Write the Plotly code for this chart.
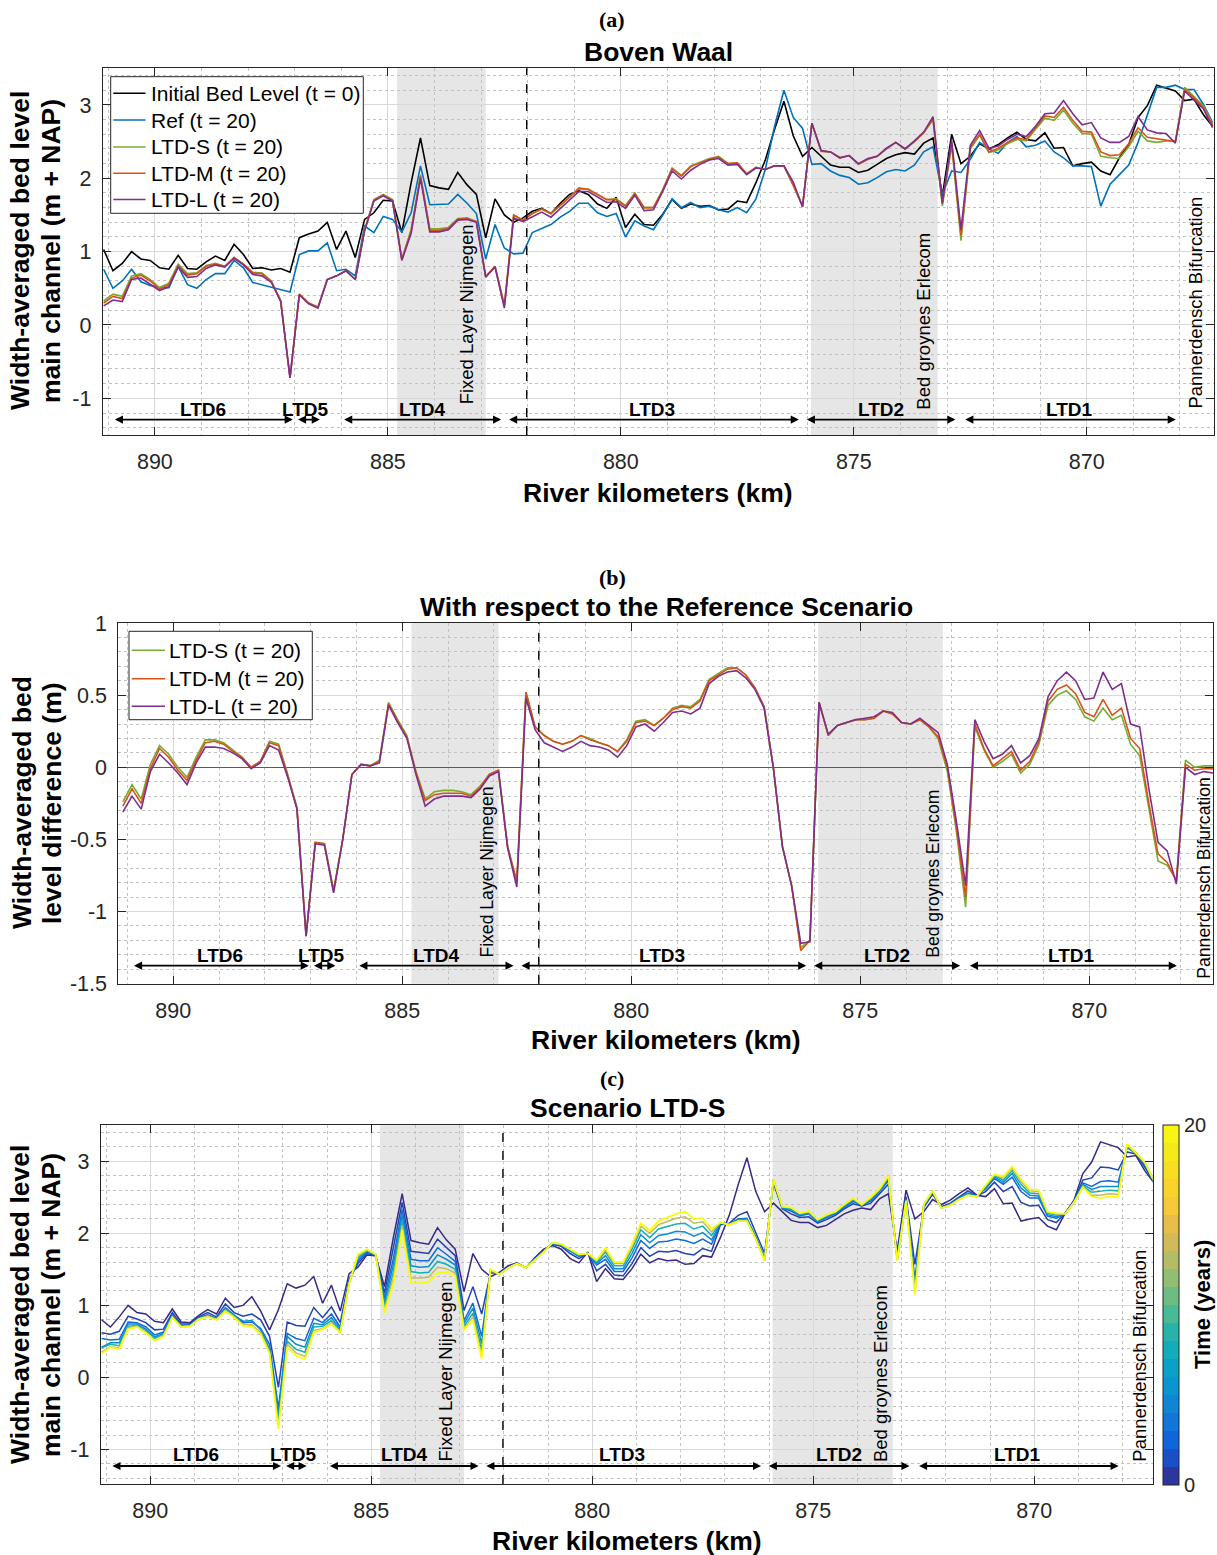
import numpy as np
import plotly.graph_objects as go

# ---------------------------------------------------------------------------
# River kilometre stations (0.2 km spacing, upstream -> downstream)
# ---------------------------------------------------------------------------
KM_START, KM_STEP, N_PTS = 891.1, 0.2, 120
km = np.round(KM_START - KM_STEP * np.arange(N_PTS), 2)

# Width-averaged bed level of the main channel (m + NAP)
init_bed = [1.03, 0.74, 0.84, 1.00, 0.90, 0.88, 0.78, 0.76, 0.95, 0.77,
            0.76, 0.86, 0.94, 0.88, 1.10, 0.96, 0.77, 0.78, 0.75, 0.77,
            0.72, 1.19, 1.24, 1.28, 1.40, 1.03, 1.28, 0.92, 1.44, 1.53,
            1.70, 1.69, 1.26, 1.94, 2.55, 1.90, 1.87, 1.85, 2.08, 1.91,
            1.78, 1.19, 1.72, 1.50, 1.40, 1.46, 1.55, 1.59, 1.52, 1.66,
            1.78, 1.83, 1.78, 1.65, 1.59, 1.74, 1.33, 1.51, 1.37, 1.36,
            1.51, 1.71, 1.59, 1.65, 1.62, 1.63, 1.57, 1.58, 1.69, 1.67,
            1.94, 2.25, 2.67, 3.05, 2.58, 2.30, 2.42, 2.30, 2.18, 2.15,
            2.15, 2.08, 2.11, 2.19, 2.27, 2.32, 2.35, 2.33, 2.48, 2.55,
            1.76, 2.60, 2.20, 2.30, 2.47, 2.40, 2.46, 2.55, 2.63, 2.53,
            2.51, 2.62, 2.41, 2.42, 2.17, 2.20, 2.22, 2.10, 2.05, 2.28,
            2.46, 2.83, 2.99, 3.27, 3.23, 3.19, 3.06, 3.08, 2.87, 2.71]

ref_t20 = [0.76, 0.50, 0.60, 0.76, 0.59, 0.54, 0.51, 0.51, 0.80, 0.55,
           0.50, 0.62, 0.70, 0.70, 0.88, 0.78, 0.58, 0.55, 0.51, 0.48,
           0.45, 0.96, 1.01, 1.01, 1.12, 0.74, 0.76, 0.67, 1.35, 1.26,
           1.48, 1.44, 1.27, 1.53, 2.17, 1.64, 1.64, 1.65, 1.78, 1.66,
           1.52, 0.90, 1.37, 1.05, 0.97, 0.98, 1.26, 1.31, 1.37, 1.47,
           1.55, 1.66, 1.66, 1.53, 1.48, 1.52, 1.20, 1.42, 1.35, 1.30,
           1.50, 1.72, 1.60, 1.67, 1.60, 1.62, 1.57, 1.54, 1.60, 1.53,
           1.72, 2.12, 2.71, 3.20, 2.83, 2.68, 2.19, 2.20, 2.10, 2.04,
           2.01, 1.92, 1.94, 2.01, 2.09, 2.12, 2.10, 2.18, 2.36, 2.43,
           1.78, 2.10, 2.08, 2.26, 2.49, 2.40, 2.34, 2.49, 2.57, 2.43,
           2.45, 2.51, 2.36, 2.28, 2.17, 2.17, 2.16, 1.62, 1.92, 2.05,
           2.18, 2.49, 2.85, 3.24, 3.24, 3.27, 3.21, 3.21, 3.01, 2.76]

ltd_s_t20 = [0.33, 0.42, 0.39, 0.67, 0.70, 0.62, 0.51, 0.57, 0.83, 0.70,
             0.71, 0.81, 0.84, 0.80, 0.92, 0.83, 0.72, 0.71, 0.60, 0.33,
             -0.72, 0.42, 0.30, 0.25, 0.62, 0.67, 0.74, 0.62, 1.30, 1.71,
             1.78, 1.71, 0.90, 1.30, 2.05, 1.31, 1.31, 1.33, 1.45, 1.46,
             1.41, 0.66, 0.80, 0.26, 1.50, 1.43, 1.52, 1.58, 1.52, 1.63,
             1.74, 1.87, 1.85, 1.78, 1.71, 1.72, 1.63, 1.80, 1.60, 1.60,
             1.85, 2.14, 2.04, 2.17, 2.22, 2.27, 2.30, 2.20, 2.21, 2.06,
             2.15, 2.12, 2.17, 2.17, 1.92, 1.62, 2.75, 2.37, 2.36, 2.28,
             2.31, 2.19, 2.26, 2.30, 2.40, 2.49, 2.40, 2.50, 2.62, 2.80,
             1.62, 2.45, 1.15, 2.40, 2.59, 2.35, 2.39, 2.47, 2.53, 2.51,
             2.67, 2.82, 2.79, 2.93, 2.75, 2.61, 2.60, 2.30, 2.28, 2.27,
             2.43, 2.64, 2.51, 2.49, 2.51, 2.51, 3.24, 3.12, 2.99, 2.74]

# Bed level difference with respect to the reference scenario (m), t = 20
diff_s = [-0.24, -0.12, -0.22, 0.02, 0.15, 0.09, 0.00, -0.07, 0.07, 0.19,
          0.19, 0.17, 0.12, 0.07, 0.00, 0.04, 0.18, 0.16, -0.05, -0.28,
          -1.17, -0.52, -0.53, -0.85, -0.50, -0.05, 0.02, 0.01, 0.05, 0.45,
          0.33, 0.22, -0.03, -0.22, -0.17, -0.16, -0.16, -0.17, -0.19, -0.13,
          -0.05, -0.02, -0.55, -0.80, 0.52, 0.28, 0.22, 0.18, 0.16, 0.18,
          0.22, 0.20, 0.17, 0.15, 0.11, 0.19, 0.32, 0.33, 0.29, 0.34,
          0.41, 0.43, 0.42, 0.47, 0.61, 0.65, 0.69, 0.69, 0.64, 0.55,
          0.42, 0.00, -0.55, -0.82, -1.25, -1.20, 0.45, 0.22, 0.29, 0.31,
          0.33, 0.33, 0.34, 0.39, 0.37, 0.31, 0.30, 0.33, 0.28, 0.20,
          -0.03, -0.45, -0.97, 0.28, 0.12, 0.00, 0.04, 0.09, -0.04, 0.02,
          0.16, 0.43, 0.50, 0.53, 0.47, 0.35, 0.32, 0.41, 0.33, 0.36,
          0.16, 0.08, -0.30, -0.65, -0.68, -0.78, 0.05, 0.00, 0.01, 0.01]

diff_m = [-0.27, -0.15, -0.25, -0.01, 0.13, 0.07, -0.02, -0.09, 0.05, 0.17,
          0.18, 0.16, 0.11, 0.07, 0.00, 0.04, 0.17, 0.15, -0.06, -0.28,
          -1.17, -0.52, -0.53, -0.86, -0.50, -0.05, 0.02, 0.01, 0.04, 0.44,
          0.32, 0.21, -0.04, -0.23, -0.19, -0.18, -0.18, -0.18, -0.20, -0.14,
          -0.05, -0.02, -0.55, -0.79, 0.52, 0.28, 0.22, 0.18, 0.16, 0.18,
          0.22, 0.19, 0.17, 0.15, 0.11, 0.18, 0.31, 0.32, 0.29, 0.34,
          0.40, 0.42, 0.41, 0.46, 0.60, 0.64, 0.68, 0.69, 0.64, 0.55,
          0.42, 0.00, -0.55, -0.82, -1.27, -1.20, 0.45, 0.22, 0.29, 0.31,
          0.33, 0.33, 0.34, 0.39, 0.37, 0.31, 0.30, 0.33, 0.28, 0.21,
          0.00, -0.42, -0.90, 0.30, 0.13, 0.01, 0.06, 0.11, -0.02, 0.04,
          0.18, 0.46, 0.54, 0.57, 0.51, 0.38, 0.35, 0.47, 0.36, 0.41,
          0.20, 0.13, -0.25, -0.60, -0.66, -0.79, 0.02, -0.02, -0.01, -0.01]

diff_l = [-0.31, -0.20, -0.29, -0.03, 0.09, 0.03, -0.04, -0.12, 0.03, 0.14,
          0.14, 0.13, 0.10, 0.06, -0.01, 0.03, 0.15, 0.12, -0.07, -0.29,
          -1.17, -0.53, -0.54, -0.87, -0.50, -0.05, 0.02, 0.01, 0.03, 0.43,
          0.31, 0.20, -0.05, -0.27, -0.22, -0.20, -0.20, -0.20, -0.21, -0.15,
          -0.06, -0.03, -0.56, -0.83, 0.48, 0.26, 0.17, 0.14, 0.11, 0.14,
          0.18, 0.15, 0.14, 0.12, 0.07, 0.15, 0.28, 0.30, 0.25, 0.31,
          0.38, 0.39, 0.37, 0.41, 0.58, 0.63, 0.66, 0.67, 0.62, 0.54,
          0.41, 0.00, -0.55, -0.82, -1.22, -1.21, 0.45, 0.23, 0.29, 0.31,
          0.33, 0.34, 0.35, 0.39, 0.38, 0.31, 0.30, 0.34, 0.29, 0.24,
          0.02, -0.38, -0.82, 0.33, 0.18, 0.06, 0.09, 0.15, 0.03, 0.08,
          0.20, 0.49, 0.60, 0.66, 0.60, 0.47, 0.48, 0.66, 0.54, 0.58,
          0.30, 0.28, -0.15, -0.52, -0.58, -0.81, 0.00, -0.05, -0.03, -0.04]

# Scenario LTD-S bed level per simulated year (m + NAP)
ltd_s_t0 = [0.80, 0.70, 0.84, 1.00, 0.90, 0.88, 0.78, 0.76, 0.95, 0.77,
            0.76, 0.86, 0.94, 0.88, 1.10, 0.97, 1.00, 1.12, 0.92, 0.66,
            0.94, 1.30, 1.24, 1.28, 1.40, 1.03, 1.28, 0.92, 1.44, 1.53,
            1.70, 1.69, 1.26, 1.94, 2.55, 1.90, 1.87, 1.85, 2.08, 1.91,
            1.78, 1.19, 1.72, 1.50, 1.40, 1.46, 1.55, 1.59, 1.52, 1.66,
            1.78, 1.83, 1.78, 1.65, 1.59, 1.74, 1.33, 1.51, 1.37, 1.36,
            1.51, 1.71, 1.59, 1.65, 1.62, 1.63, 1.57, 1.58, 1.69, 1.67,
            1.94, 2.25, 2.67, 3.05, 2.58, 2.30, 2.42, 2.30, 2.18, 2.15,
            2.15, 2.08, 2.11, 2.19, 2.27, 2.32, 2.35, 2.33, 2.48, 2.55,
            1.76, 2.60, 2.20, 2.30, 2.47, 2.40, 2.46, 2.55, 2.63, 2.53,
            2.51, 2.62, 2.41, 2.42, 2.17, 2.20, 2.22, 2.10, 2.05, 2.28,
            2.46, 2.83, 2.99, 3.27, 3.23, 3.19, 3.06, 3.08, 2.87, 2.71]

ltd_s_t1 = [0.62, 0.60, 0.64, 0.85, 0.81, 0.76, 0.66, 0.67, 0.90, 0.74,
            0.74, 0.84, 0.90, 0.84, 1.02, 0.90, 0.85, 0.88, 0.80, 0.57,
            -0.14, 0.77, 0.72, 0.71, 0.97, 0.83, 0.98, 0.76, 1.36, 1.58,
            1.72, 1.69, 1.17, 1.78, 2.43, 1.75, 1.73, 1.72, 1.92, 1.80,
            1.69, 0.93, 1.26, 0.88, 1.45, 1.45, 1.54, 1.59, 1.52, 1.65,
            1.76, 1.85, 1.82, 1.72, 1.65, 1.73, 1.48, 1.57, 1.42, 1.41,
            1.58, 1.80, 1.68, 1.75, 1.74, 1.76, 1.72, 1.70, 1.79, 1.75,
            2.12, 2.14, 2.25, 2.30, 2.02, 1.72, 2.70, 2.34, 2.27, 2.22,
            2.23, 2.14, 2.19, 2.25, 2.34, 2.41, 2.38, 2.42, 2.55, 2.68,
            1.68, 2.51, 1.57, 2.36, 2.54, 2.37, 2.42, 2.50, 2.59, 2.52,
            2.58, 2.71, 2.58, 2.65, 2.43, 2.38, 2.39, 2.19, 2.15, 2.28,
            2.45, 2.74, 2.77, 2.92, 2.91, 2.88, 3.13, 3.10, 2.92, 2.72]

ltd_s_t3 = [0.54, 0.52, 0.53, 0.77, 0.76, 0.70, 0.59, 0.63, 0.87, 0.72,
            0.73, 0.83, 0.87, 0.82, 0.97, 0.87, 0.76, 0.77, 0.68, 0.46,
            -0.43, 0.61, 0.54, 0.51, 0.82, 0.76, 0.88, 0.70, 1.34, 1.61,
            1.74, 1.70, 1.10, 1.65, 2.33, 1.64, 1.62, 1.62, 1.80, 1.71,
            1.61, 0.79, 1.03, 0.57, 1.48, 1.44, 1.53, 1.58, 1.52, 1.64,
            1.75, 1.86, 1.83, 1.75, 1.68, 1.72, 1.56, 1.64, 1.47, 1.47,
            1.66, 1.90, 1.79, 1.88, 1.89, 1.92, 1.90, 1.86, 1.92, 1.85,
            2.14, 2.13, 2.20, 2.21, 1.95, 1.65, 2.73, 2.35, 2.31, 2.24,
            2.27, 2.16, 2.22, 2.27, 2.36, 2.44, 2.39, 2.45, 2.58, 2.73,
            1.65, 2.48, 1.36, 2.38, 2.57, 2.36, 2.40, 2.49, 2.56, 2.52,
            2.62, 2.76, 2.68, 2.78, 2.58, 2.49, 2.49, 2.24, 2.21, 2.27,
            2.44, 2.70, 2.65, 2.72, 2.73, 2.71, 3.19, 3.11, 2.95, 2.73]

ltd_s_t5 = [0.42, 0.48, 0.48, 0.74, 0.74, 0.67, 0.56, 0.61, 0.85, 0.71,
            0.72, 0.82, 0.86, 0.82, 0.96, 0.86, 0.78, 0.79, 0.66, 0.40,
            -0.52, 0.57, 0.46, 0.42, 0.75, 0.73, 0.83, 0.67, 1.32, 1.64,
            1.75, 1.70, 1.04, 1.56, 2.25, 1.55, 1.53, 1.54, 1.70, 1.64,
            1.56, 0.75, 0.96, 0.47, 1.48, 1.43, 1.52, 1.58, 1.52, 1.63,
            1.75, 1.86, 1.84, 1.76, 1.69, 1.72, 1.58, 1.69, 1.51, 1.51,
            1.72, 1.98, 1.87, 1.97, 1.99, 2.03, 2.02, 1.96, 2.01, 1.91,
            2.14, 2.12, 2.19, 2.20, 1.94, 1.64, 2.74, 2.36, 2.33, 2.26,
            2.28, 2.17, 2.23, 2.28, 2.38, 2.46, 2.39, 2.47, 2.59, 2.76,
            1.64, 2.47, 1.29, 2.39, 2.57, 2.36, 2.40, 2.48, 2.55, 2.51,
            2.64, 2.78, 2.71, 2.83, 2.63, 2.53, 2.52, 2.26, 2.23, 2.27,
            2.44, 2.68, 2.61, 2.65, 2.65, 2.65, 3.20, 3.11, 2.97, 2.73]

ltd_s_t8 = [0.41, 0.46, 0.44, 0.71, 0.72, 0.65, 0.54, 0.59, 0.84, 0.71,
            0.72, 0.82, 0.85, 0.81, 0.94, 0.85, 0.73, 0.72, 0.62, 0.38,
            -0.62, 0.50, 0.39, 0.35, 0.70, 0.71, 0.79, 0.65, 1.31, 1.67,
            1.76, 1.71, 0.99, 1.46, 2.18, 1.47, 1.45, 1.46, 1.61, 1.57,
            1.50, 0.71, 0.89, 0.38, 1.49, 1.43, 1.52, 1.58, 1.52, 1.63,
            1.74, 1.87, 1.84, 1.77, 1.70, 1.72, 1.60, 1.74, 1.55, 1.55,
            1.78, 2.05, 1.94, 2.06, 2.09, 2.13, 2.14, 2.06, 2.10, 1.97,
            2.15, 2.12, 2.18, 2.19, 1.93, 1.63, 2.74, 2.36, 2.34, 2.27,
            2.29, 2.18, 2.25, 2.29, 2.39, 2.47, 2.40, 2.48, 2.61, 2.78,
            1.63, 2.46, 1.23, 2.39, 2.58, 2.35, 2.40, 2.48, 2.54, 2.51,
            2.65, 2.80, 2.74, 2.87, 2.68, 2.56, 2.55, 2.28, 2.25, 2.27,
            2.43, 2.66, 2.57, 2.58, 2.60, 2.59, 3.22, 3.12, 2.98, 2.74]

ltd_s_t13 = [0.35, 0.43, 0.41, 0.69, 0.71, 0.63, 0.52, 0.58, 0.84, 0.70,
             0.71, 0.81, 0.85, 0.80, 0.93, 0.84, 0.73, 0.73, 0.62, 0.35,
             -0.67, 0.46, 0.34, 0.29, 0.65, 0.68, 0.76, 0.63, 1.30, 1.69,
             1.77, 1.71, 0.94, 1.38, 2.11, 1.38, 1.38, 1.39, 1.53, 1.51,
             1.45, 0.68, 0.84, 0.31, 1.50, 1.43, 1.52, 1.58, 1.52, 1.63,
             1.74, 1.87, 1.85, 1.78, 1.71, 1.72, 1.62, 1.77, 1.58, 1.58,
             1.82, 2.10, 2.00, 2.12, 2.16, 2.21, 2.23, 2.14, 2.16, 2.02,
             2.15, 2.12, 2.17, 2.17, 1.92, 1.62, 2.75, 2.37, 2.35, 2.28,
             2.30, 2.19, 2.25, 2.30, 2.40, 2.48, 2.40, 2.49, 2.61, 2.79,
             1.62, 2.45, 1.18, 2.40, 2.59, 2.35, 2.39, 2.47, 2.53, 2.51,
             2.66, 2.81, 2.77, 2.91, 2.72, 2.59, 2.58, 2.29, 2.27, 2.27,
             2.43, 2.65, 2.53, 2.53, 2.55, 2.54, 3.23, 3.12, 2.98, 2.74]

# Reach definitions (start km, end km, label km) and hydraulic features
reach_names = ["LTD6", "LTD5", "LTD4", "LTD3", "LTD2", "LTD1"]
reach_start = [890.89, 886.96, 885.97, 882.43, 876.04, 872.64]
reach_end = [887.04, 886.46, 882.57, 876.18, 872.82, 868.09]
reach_label_km = [888.97, 886.76, 884.25, 879.33, 874.42, 870.38]
shaded_zones = [(884.8, 882.9), (875.92, 873.2)]
boundary_km = 882.02
feature_names = ["Fixed Layer Nijmegen", "Bed groynes Erlecom", "Pannerdensch Bifurcation"]

# ---------------------------------------------------------------------------
W, H = 1217, 1555
FONT = "Liberation Sans, Arial, sans-serif"
SERIF = "Liberation Serif, DejaVu Serif, serif"
AX = "#262626"


def fx(p):
    return p / W


def fy(p):
    return 1 - p / H


s_arr = np.array(ltd_s_t20)
m_arr = s_arr + (np.array(diff_m) - np.array(diff_s))
l_arr = s_arr + (np.array(diff_l) - np.array(diff_s))

C_INIT, C_REF, C_S, C_M, C_L = "#000000", "#0072BD", "#77AC30", "#D95319", "#7E2F8E"

# parula colormap anchors
PARULA = [(53, 42, 135), (15, 92, 221), (18, 125, 216), (7, 156, 207), (21, 177, 180),
          (89, 189, 140), (165, 190, 107), (225, 185, 82), (252, 206, 46),
          (245, 227, 29), (249, 251, 14)]


def parula(f):
    f = min(max(f, 0.0), 1.0) * (len(PARULA) - 1)
    i = min(int(f), len(PARULA) - 2)
    t = f - i
    c = [PARULA[i][k] + (PARULA[i + 1][k] - PARULA[i][k]) * t for k in range(3)]
    return "rgb(%d,%d,%d)" % tuple(round(v) for v in c)


fig = go.Figure()

# ---------------- panel (a) ----------------
series_a = [(init_bed, "Initial Bed Level (t = 0)", C_INIT),
            (ref_t20, "Ref (t = 20)", C_REF),
            (s_arr, "LTD-S (t = 20)", C_S),
            (m_arr, "LTD-M (t = 20)", C_M),
            (l_arr, "LTD-L (t = 20)", C_L)]
for y, name, col in series_a:
    fig.add_trace(go.Scatter(x=km, y=y, mode="lines", name=name, xaxis="x", yaxis="y",
                             showlegend=False, line=dict(color=col, width=1.6)))

# ---------------- panel (b) ----------------
series_b = [(diff_s, "LTD-S (t = 20)", C_S),
            (diff_m, "LTD-M (t = 20)", C_M),
            (diff_l, "LTD-L (t = 20)", C_L)]
for y, name, col in series_b:
    fig.add_trace(go.Scatter(x=km, y=y, mode="lines", name=name, xaxis="x2", yaxis="y2",
                             showlegend=False, line=dict(color=col, width=1.6)))

# ---------------- panel (c) ----------------
years = [0, 1, 3, 5, 8, 13, 20]
series_c = [ltd_s_t0, ltd_s_t1, ltd_s_t3, ltd_s_t5, ltd_s_t8, ltd_s_t13, ltd_s_t20]
for t, y in zip(years, series_c):
    fig.add_trace(go.Scatter(x=km, y=y, mode="lines", xaxis="x3", yaxis="y3", showlegend=False,
                             name="t = %d" % t,
                             line=dict(color=parula(t / 20), width=1.5 if t < 20 else 1.8)))

# discrete colour bar for time in years
n_lev = 20
cscale = []
for k in range(n_lev):
    c = parula((k + 0.5) / n_lev)
    cscale += [[k / n_lev, c], [(k + 1) / n_lev, c]]
fig.add_trace(go.Scatter(
    x=[895], y=[0], mode="markers", xaxis="x3", yaxis="y3", showlegend=False, hoverinfo="skip",
    marker=dict(color=[10], cmin=0, cmax=20, colorscale=cscale, showscale=True, size=1,
                colorbar=dict(x=fx(1162.7), xanchor="left", xpad=0, ypad=0,
                              y=fy(1304.8), yanchor="middle",
                              len=359.5, lenmode="pixels", thickness=15.6, thicknessmode="pixels",
                              tickvals=[0, 20], ticktext=["0", "20"], ticks="",
                              tickfont=dict(family=FONT, size=20, color=AX),
                              outlinewidth=1, outlinecolor=AX))))

# ---------------------------------------------------------------------------
PANELS = {
    "a": dict(x0=102.7, x1=1214, y0=68.3, y1=435, xr=[891.12, 867.27], yr=[-1.5, 3.5], ax="", ydt=0.2),
    "b": dict(x0=118.3, x1=1213, y0=623, y1=983.7, xr=[891.2, 867.3], yr=[-1.5, 1.0], ax="2", ydt=0.1),
    "c": dict(x0=100.7, x1=1152.7, y0=1125.3, y1=1484, xr=[891.12, 867.32], yr=[-1.48, 3.5], ax="3", ydt=0.2),
}

xt = [890, 885, 880, 875, 870]
layout_axes = {}
for key, p in PANELS.items():
    ax = p["ax"]
    common = dict(showline=True, linecolor=AX, linewidth=1, mirror="ticks", ticks="inside",
                  ticklen=8, tickwidth=1, tickcolor=AX, showgrid=True, gridcolor="#d9d9d9",
                  gridwidth=1.3, tickfont=dict(family=FONT, size=21.5, color=AX))
    layout_axes["xaxis" + ax] = dict(
        common, domain=[fx(p["x0"]), fx(p["x1"])], range=p["xr"], anchor="y" + ax,
        tickvals=xt, ticktext=[str(v) for v in xt], zeroline=False, ticklabelstandoff=7,
        minor=dict(dtick=1, tick0=0, showgrid=True, gridcolor="#c2c2c2", griddash="dot", gridwidth=1))
    if key == "b":
        yt = [-1.5, -1, -0.5, 0, 0.5, 1]
        ytt = ["-1.5", "-1", "-0.5", "0", "0.5", "1"]
    else:
        yt = [-1, 0, 1, 2, 3]
        ytt = ["-1", "0", "1", "2", "3"]
    layout_axes["yaxis" + ax] = dict(
        common, domain=[fy(p["y1"]), fy(p["y0"])], range=p["yr"], anchor="x" + ax,
        tickvals=yt, ticktext=ytt, ticklabelstandoff=6,
        zeroline=(key == "b"), zerolinecolor="#5a5a5a", zerolinewidth=1,
        minor=dict(dtick=p["ydt"], tick0=0, showgrid=True, gridcolor="#c2c2c2", griddash="dot", gridwidth=1))

shapes = []
annotations = []
feat_pos = {
    "a": [(883.31, 0.14), (873.50, 0.055), (867.67, 0.31)],
    "b": [(883.16, -0.726), (873.43, -0.737), (867.49, -0.77)],
    "c": [(883.33, 0.083), (873.49, 0.06), (867.61, 0.30)],
}
reach_y = {"a": (-1.15, -1.29), "b": (-1.305, -1.375), "c": (-1.07, -1.23)}
feat_size = {"a": 18.5, "b": 17.6, "c": 18.5}

for key, p in PANELS.items():
    ax = p["ax"]
    xref, yref = "x" + ax, "y" + ax
    for k0, k1 in shaded_zones:
        shapes.append(dict(type="rect", xref=xref, yref=yref + " domain", x0=k0, x1=k1, y0=0, y1=1,
                           fillcolor="#e6e6e6", line=dict(width=0), layer="below"))
    shapes.append(dict(type="line", xref=xref, yref=yref + " domain", x0=boundary_km, x1=boundary_km,
                       y0=0, y1=1, line=dict(color="#000000", width=1.4, dash="dash")))
    ly, ay = reach_y[key]
    for name, k0, k1, kl in zip(reach_names, reach_start, reach_end, reach_label_km):
        annotations.append(dict(x=k1, y=ay, ax=k0, ay=ay, xref=xref, yref=yref, axref=xref, ayref=yref,
                                text="", showarrow=True, arrowhead=2, arrowside="end+start",
                                arrowsize=0.9, arrowwidth=1.8, arrowcolor="#000000", standoff=0,
                                startstandoff=0))
        annotations.append(dict(x=kl, y=ly, xref=xref, yref=yref, text="<b>%s</b>" % name,
                                showarrow=False, xanchor="center", yanchor="middle",
                                font=dict(family=FONT, size=19, color="#000000")))
    for name, (fk, fv) in zip(feature_names, feat_pos[key]):
        annotations.append(dict(x=fk, y=fv, xref=xref, yref=yref, text=name, textangle=-90,
                                showarrow=False, xanchor="center", yanchor="middle",
                                font=dict(family=FONT, size=feat_size[key], color="#000000")))

# titles, panel letters and axis titles (pixel positions)
texts = [
    ("<b>(a)</b>", 612, 20, SERIF, 22, 0), ("<b>Boven Waal</b>", 658, 52, FONT, 26.5, 0),
    ("<b>(b)</b>", 612, 577, SERIF, 22, 0),
    ("<b>With respect to the Reference Scenario</b>", 666, 607, FONT, 26.5, 0),
    ("<b>(c)</b>", 612, 1078, SERIF, 22, 0), ("<b>Scenario LTD-S</b>", 627, 1108, FONT, 26.5, 0),
    ("<b>River kilometers (km)</b>", 658, 493, FONT, 26.5, 0),
    ("<b>River kilometers (km)</b>", 666, 1040, FONT, 26.5, 0),
    ("<b>River kilometers (km)</b>", 627, 1541, FONT, 26.5, 0),
    ("<b>Width-averaged bed level</b>", 20, 251, FONT, 26.5, -90),
    ("<b>main channel (m + NAP)</b>", 51, 251, FONT, 26.5, -90),
    ("<b>Width-averaged bed</b>", 22, 803, FONT, 26.5, -90),
    ("<b>level difference (m)</b>", 52, 803, FONT, 26.5, -90),
    ("<b>Width-averaged bed level</b>", 20, 1305, FONT, 26.5, -90),
    ("<b>main channel (m + NAP)</b>", 51, 1305, FONT, 26.5, -90),
    ("<b>Time (years)</b>", 1202, 1305, FONT, 22, -90),
]
for txt, xp, yp, fam, size, ang in texts:
    annotations.append(dict(x=fx(xp), y=fy(yp), xref="paper", yref="paper", text=txt, showarrow=False,
                            xanchor="center", yanchor="middle", textangle=ang,
                            font=dict(family=fam, size=size, color="#000000")))

# legend boxes
legend_boxes = [
    dict(box=(110.7, 363.3, 76.7, 213.3), rows=[93.3, 120.0, 147.0, 173.3, 199.5],
         line_x=(113.3, 145.5), text_x=149.0, entries=series_a),
    dict(box=(129.0, 312.3, 631.3, 719.7), rows=[650.3, 678.7, 706.3],
         line_x=(131.7, 165.0), text_x=166.7, entries=series_b),
]
for lg in legend_boxes:
    bx0, bx1, by0, by1 = lg["box"]
    shapes.append(dict(type="rect", xref="paper", yref="paper", x0=fx(bx0), x1=fx(bx1),
                       y0=fy(by1), y1=fy(by0), fillcolor="#ffffff", line=dict(color=AX, width=1),
                       layer="above"))
    for ry, (_, name, col) in zip(lg["rows"], lg["entries"]):
        shapes.append(dict(type="line", xref="paper", yref="paper", x0=fx(lg["line_x"][0]),
                           x1=fx(lg["line_x"][1]), y0=fy(ry), y1=fy(ry),
                           line=dict(color=col, width=1.6), layer="above"))
        annotations.append(dict(x=fx(lg["text_x"]), y=fy(ry), xref="paper", yref="paper", text=name,
                                showarrow=False, xanchor="left", yanchor="middle",
                                font=dict(family=FONT, size=21, color="#000000")))

fig.update_layout(
    width=W, height=H, margin=dict(l=0, r=0, t=0, b=0, autoexpand=False),
    paper_bgcolor="#ffffff", plot_bgcolor="#ffffff",
    font=dict(family=FONT, color="#000000"), showlegend=False,
    shapes=shapes, annotations=annotations,
    **layout_axes,
)

fig.write_html("out.html")
